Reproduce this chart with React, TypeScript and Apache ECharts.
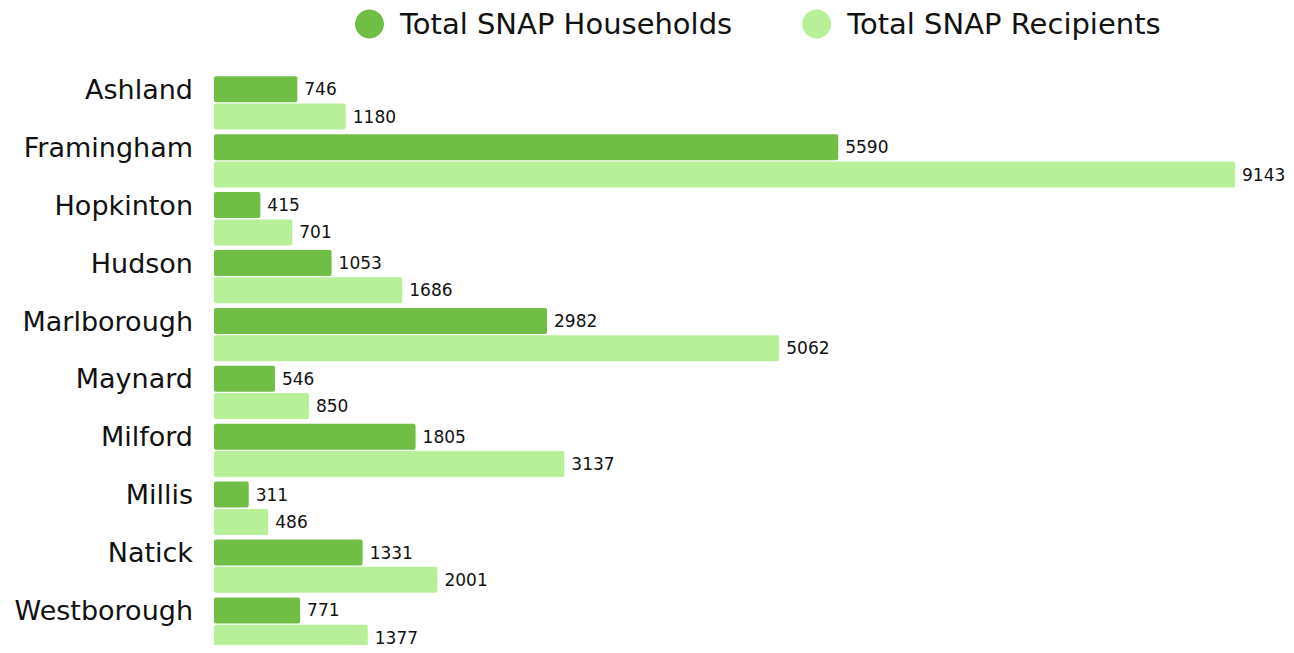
import React, { useEffect, useRef } from "react";
import * as echarts from "echarts";

const categories = ["Ashland", "Framingham", "Hopkinton", "Hudson", "Marlborough", "Maynard", "Milford", "Millis", "Natick", "Westborough"];
const households = [746, 5590, 415, 1053, 2982, 546, 1805, 311, 1331, 771];
const recipients = [1180, 9143, 701, 1686, 5062, 850, 3137, 486, 2001, 1377];
const seriesNames = ["Total SNAP Households", "Total SNAP Recipients"];

const FONT = "'DejaVu Sans', sans-serif";

export default function App() {
  const ref = useRef<HTMLDivElement>(null);
  useEffect(() => {
    if (!ref.current) return;
    const chart = echarts.init(ref.current, undefined, { renderer: "svg" });
    const labelStyle = {
      show: true,
      position: "right" as const,
      distance: 7,
      fontFamily: FONT,
      fontSize: 17,
      color: "#111",
    };
    chart.setOption({
      animation: false,
      legend: {
        top: 0,
        left: 347,
        padding: 0,
        icon: "circle",
        itemWidth: 29,
        itemHeight: 29,
        itemGap: 70,
        textStyle: { fontFamily: FONT, fontSize: 29, lineHeight: 32, color: "#111", padding: [0, 0, 0, 11] },
        data: seriesNames,
      },
      grid: { left: 206, right: 51, top: 66, height: 585, containLabel: false },
      xAxis: { type: "value", min: 0, max: "dataMax", show: false },
      yAxis: {
        type: "category",
        data: categories,
        inverse: true,
        axisLine: { show: false },
        axisTick: { show: false },
        axisLabel: { fontFamily: FONT, fontSize: 27, color: "#111", margin: 21, verticalAlign: "bottom", lineHeight: 27 },
        splitLine: { show: false },
      },
      series: [
        { name: seriesNames[0], type: "bar", data: households, barWidth: 26, barGap: "5%", itemStyle: { color: "#70be45", borderRadius: 2 }, label: labelStyle },
        { name: seriesNames[1], type: "bar", data: recipients, barWidth: 26, itemStyle: { color: "#b8f09a", borderRadius: 2 }, label: labelStyle },
      ],
    });
    return () => chart.dispose();
  }, []);
  return <div ref={ref} style={{ height: 645, marginBottom: -8 }} />;
}
